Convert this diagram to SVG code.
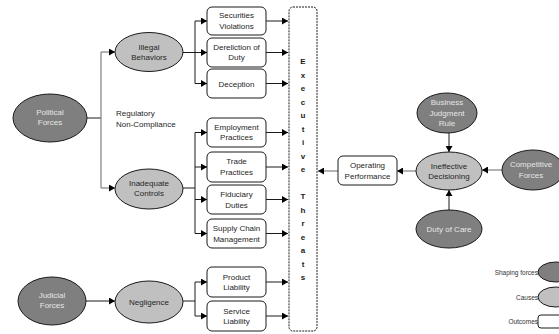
<svg xmlns="http://www.w3.org/2000/svg" width="559" height="334" viewBox="0 0 559 334">
<style>
text{font-family:"Liberation Sans",Arial,sans-serif;font-size:8px;text-anchor:middle}
.force{fill:#7f7f7f;stroke:#1a1a1a;stroke-width:1}
.force-t{fill:#e6e6e6}
.cause{fill:#c0c0c0;stroke:#1a1a1a;stroke-width:1}
.cause-t{fill:#262626}
.box{fill:#fff;stroke:#1a1a1a;stroke-width:1}
.box-t{fill:#262626}
.ln{fill:none;stroke:#1a1a1a;stroke-width:1}
.gl{fill:none;stroke:#808080;stroke-width:1.2}
.ar{marker-end:url(#ah)}
.ex{font-weight:bold;font-size:8px;fill:#1a1a1a}
.lg{font-size:6.5px;fill:#333;text-anchor:end}
</style>
<defs>
<marker id="ah" markerUnits="userSpaceOnUse" markerWidth="6" markerHeight="7" refX="6" refY="3.5" orient="auto">
<path d="M0,0 L6,3.5 L0,7 z" fill="#000"/>
</marker>
</defs>
<g id="connectors">
<path class="ln" d="M87,118 H101"/>
<path class="gl" d="M101,52 V188"/>
<path class="gl ar" d="M101,52 H115"/>
<path class="gl ar" d="M101,188 H115"/>
<path class="ln ar" d="M183,52.5 H207"/>
<path class="ln" d="M195,21 V83.5"/>
<path class="ln ar" d="M195,21 H207"/>
<path class="ln ar" d="M195,83.5 H207"/>
<path class="ln" d="M183,188 H195"/>
<path class="ln" d="M195,132.5 V233.5"/>
<path class="ln ar" d="M195,132.5 H207"/>
<path class="ln ar" d="M195,167 H207"/>
<path class="ln ar" d="M195,199.5 H207"/>
<path class="ln ar" d="M195,233.5 H207"/>
<path class="ln ar" d="M86,301 H115"/>
<path class="ln" d="M183,301 H195"/>
<path class="ln" d="M195,282 V316"/>
<path class="ln ar" d="M195,282 H207"/>
<path class="ln ar" d="M195,316 H207"/>
<path class="ln ar" d="M266,21 H288"/>
<path class="ln ar" d="M266,52.5 H288"/>
<path class="ln ar" d="M266,83.5 H288"/>
<path class="ln ar" d="M266,132.5 H288"/>
<path class="ln ar" d="M266,167 H288"/>
<path class="ln ar" d="M266,199.5 H288"/>
<path class="ln ar" d="M266,233.5 H288"/>
<path class="ln ar" d="M266,282 H288"/>
<path class="ln ar" d="M266,316 H288"/>
<path class="gl ar" d="M338,171 H318"/>
<path class="gl ar" d="M416,171 H397"/>
<path class="gl ar" d="M502,170 H482"/>
<path class="ln ar" d="M449,133 V152"/>
<path class="ln ar" d="M449,210 V190"/>
</g>
<g id="political-forces">
<ellipse class="force" cx="50" cy="118" rx="37" ry="24"/>
<text class="force-t" x="50" y="115">Political</text>
<text class="force-t" x="50" y="125">Forces</text>
</g>
<g id="judicial-forces">
<ellipse class="force" cx="52" cy="301" rx="34" ry="24"/>
<text class="force-t" x="52" y="298">Judicial</text>
<text class="force-t" x="52" y="308">Forces</text>
</g>
<g id="illegal-behaviors">
<ellipse class="cause" cx="149" cy="52" rx="34" ry="19.5"/>
<text class="cause-t" x="149" y="50">Illegal</text>
<text class="cause-t" x="149" y="60">Behaviors</text>
</g>
<g id="inadequate-controls">
<ellipse class="cause" cx="149" cy="189" rx="34" ry="20"/>
<text class="cause-t" x="149" y="186">Inadequate</text>
<text class="cause-t" x="149" y="196">Controls</text>
</g>
<g id="negligence">
<ellipse class="cause" cx="149" cy="302" rx="34" ry="21"/>
<text class="cause-t" x="149" y="305">Negligence</text>
</g>
<g id="regulatory-label">
<text x="116" y="116" style="text-anchor:start;fill:#262626">Regulatory</text>
<text x="116" y="127" style="text-anchor:start;fill:#262626">Non-Compliance</text>
</g>
<g id="securities-violations">
<rect class="box" x="207" y="7" width="59" height="28" rx="5"/>
<text class="box-t" x="236.5" y="18">Securities</text>
<text class="box-t" x="236.5" y="28.5">Violations</text>
</g>
<g id="dereliction-of-duty">
<rect class="box" x="207" y="38" width="59" height="29" rx="5"/>
<text class="box-t" x="236.5" y="50">Dereliction of</text>
<text class="box-t" x="236.5" y="60">Duty</text>
</g>
<g id="deception">
<rect class="box" x="207" y="69" width="59" height="29" rx="5"/>
<text class="box-t" x="236.5" y="86.5">Deception</text>
</g>
<g id="employment-practices">
<rect class="box" x="207" y="118" width="59" height="29" rx="5"/>
<text class="box-t" x="236.5" y="130">Employment</text>
<text class="box-t" x="236.5" y="140">Practices</text>
</g>
<g id="trade-practices">
<rect class="box" x="207" y="152" width="59" height="30" rx="5"/>
<text class="box-t" x="236.5" y="164">Trade</text>
<text class="box-t" x="236.5" y="174.5">Practices</text>
</g>
<g id="fiduciary-duties">
<rect class="box" x="207" y="185" width="59" height="29" rx="5"/>
<text class="box-t" x="236.5" y="197">Fiduciary</text>
<text class="box-t" x="236.5" y="207.5">Duties</text>
</g>
<g id="supply-chain-management">
<rect class="box" x="207" y="219" width="59" height="29" rx="5"/>
<text class="box-t" x="236.5" y="231">Supply Chain</text>
<text class="box-t" x="236.5" y="241.5">Management</text>
</g>
<g id="product-liability">
<rect class="box" x="207" y="267" width="59" height="30" rx="5"/>
<text class="box-t" x="236.5" y="279.5">Product</text>
<text class="box-t" x="236.5" y="290">Liability</text>
</g>
<g id="service-liability">
<rect class="box" x="207" y="301" width="59" height="30" rx="5"/>
<text class="box-t" x="236.5" y="313.5">Service</text>
<text class="box-t" x="236.5" y="324">Liability</text>
</g>
<g id="executive-threats">
<rect x="289" y="7" width="28" height="324" rx="4" fill="#fff" stroke="#1a1a1a" stroke-width="1" stroke-dasharray="2,1"/>
<text class="ex" x="303" y="64">E</text>
<text class="ex" x="303" y="77.5">x</text>
<text class="ex" x="303" y="91">e</text>
<text class="ex" x="303" y="104.5">c</text>
<text class="ex" x="303" y="118">u</text>
<text class="ex" x="303" y="131.5">t</text>
<text class="ex" x="303" y="145">i</text>
<text class="ex" x="303" y="158.5">v</text>
<text class="ex" x="303" y="172">e</text>
<text class="ex" x="303" y="199">T</text>
<text class="ex" x="303" y="212.5">h</text>
<text class="ex" x="303" y="226">r</text>
<text class="ex" x="303" y="239.5">e</text>
<text class="ex" x="303" y="253">a</text>
<text class="ex" x="303" y="266.5">t</text>
<text class="ex" x="303" y="280">s</text>
</g>
<g id="operating-performance">
<rect class="box" x="338" y="156" width="59" height="29" rx="5"/>
<text class="box-t" x="367.5" y="168">Operating</text>
<text class="box-t" x="367.5" y="178.5">Performance</text>
</g>
<g id="ineffective-decisioning">
<ellipse class="cause" cx="449" cy="171" rx="33" ry="19"/>
<text class="cause-t" x="449" y="168.5">Ineffective</text>
<text class="cause-t" x="449" y="179">Decisioning</text>
</g>
<g id="business-judgment-rule">
<ellipse class="force" cx="447" cy="113" rx="30" ry="20"/>
<text class="force-t" x="447" y="105">Business</text>
<text class="force-t" x="447" y="115.5">Judgment</text>
<text class="force-t" x="447" y="126">Rule</text>
</g>
<g id="competitive-forces">
<ellipse class="force" cx="533" cy="170" rx="31" ry="20"/>
<text class="force-t" x="531" y="167">Competitive</text>
<text class="force-t" x="531" y="177.5">Forces</text>
</g>
<g id="duty-of-care">
<ellipse class="force" cx="449" cy="229" rx="33" ry="19"/>
<text class="force-t" x="449" y="232">Duty of Care</text>
</g>
<g id="legend">
<text class="lg" x="538" y="274.5">Shaping forces</text>
<ellipse class="force" cx="556" cy="272" rx="18" ry="10"/>
<text class="lg" x="538" y="299.5">Causes</text>
<ellipse class="cause" cx="556" cy="297" rx="18" ry="10"/>
<text class="lg" x="538" y="323.5">Outcomes</text>
<rect class="box" x="538" y="315" width="30" height="13" rx="3"/>
</g>
</svg>
